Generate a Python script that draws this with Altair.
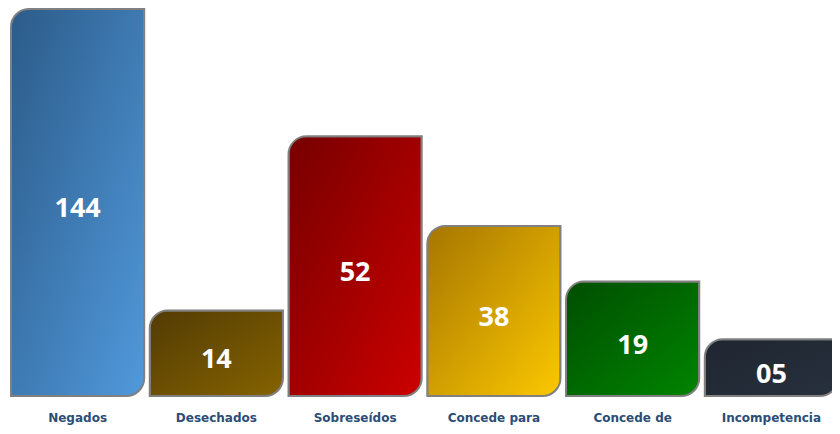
import altair as alt
import pandas as pd

categories = ["Negados", "Desechados", "Sobreseídos", "Concede para", "Concede de", "Incompetencia"]
value_labels = ["144", "14", "52", "38", "19", "05"]
# bar heights as drawn in the picture (the picture is not to scale)
bar_heights = [389, 86, 261, 171, 115, 57]
color_start = ["#2c5b88", "#523b05", "#760000", "#a67600", "#004e00", "#1f2631"]
color_end = ["#5199dc", "#856300", "#cc0000", "#fcc800", "#008400", "#27303d"]

df = pd.DataFrame({"cat": categories, "h": bar_heights, "lab": value_labels})

x_enc = alt.X(
    "cat:N",
    sort=categories,
    scale=alt.Scale(range=[3, 830], paddingInner=0.04, paddingOuter=0),
    axis=alt.Axis(
        title=None, labelAngle=0, ticks=False, domain=False, labelPadding=16,
        labelFont="DejaVu Sans", labelFontWeight="bold", labelFontSize=12,
        labelColor="#2b4d77",
    ),
)
y_enc = alt.Y("h:Q", scale=alt.Scale(domain=[0, 390]), axis=None)

layers = []
for cat, c1, c2 in zip(categories, color_start, color_end):
    grad = alt.Gradient(
        gradient="linear",
        stops=[alt.GradientStop(color=c1, offset=0), alt.GradientStop(color=c2, offset=1)],
        x1=0, y1=0, x2=1, y2=1,
    )
    layers.append(
        alt.Chart(df)
        .transform_filter(alt.datum.cat == cat)
        .mark_bar(color=grad, stroke="#808080", strokeWidth=2,
                  cornerRadiusTopLeft=18, cornerRadiusBottomRight=18)
        .encode(x=x_enc, y=y_enc)
    )

text = (
    alt.Chart(df)
    .transform_calculate(mid="datum.h / 2")
    .mark_text(color="white", font="Open Sans", fontWeight="bold", fontSize=27,
               baseline="middle", dy=7)
    .encode(x=x_enc, y=alt.Y("mid:Q", scale=alt.Scale(domain=[0, 390]), axis=None),
            text="lab:N")
)

chart = (
    alt.layer(*layers, text)
    .properties(width=824, height=388,
                autosize=alt.AutoSizeParams(type="none"),
                padding={"left": 0, "top": 0, "right": 0, "bottom": 30},
                background="white")
    .configure_view(stroke=None)
)

chart.save("out.html", embed_options={"renderer": "svg", "actions": False})
